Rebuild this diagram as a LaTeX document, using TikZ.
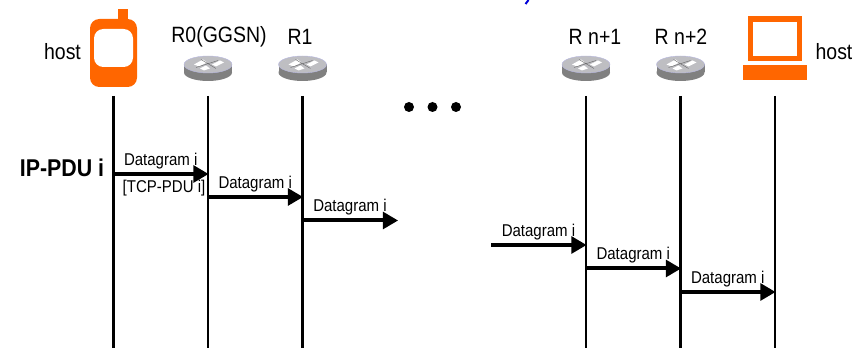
\documentclass[tikz,border=0pt]{standalone}
\usepackage{fontspec}
\setmainfont[FakeStretch=0.88]{Liberation Sans}
\usepackage{tikz}
\usetikzlibrary{arrows.meta}
\definecolor{hostorange}{HTML}{FF6600}
\definecolor{routerside}{HTML}{808080}
\definecolor{routertop}{HTML}{BEBEC2}
\tikzset{
    lifeline/.style={line width=1.6pt},
    msg/.style={line width=3pt, draw, -{Triangle[length=11.5pt,width=12.5pt]}, shorten >=-0.5pt},
    msglabel/.style={font=\fontsize{12.8}{12.8}\selectfont, inner sep=0pt, above=2.5pt},
    hostlabel/.style={font=\fontsize{16.6}{16.6}\selectfont, inner sep=0pt},
    router/.pic={
        \fill[routerside] (0,4) ellipse[x radius=24, y radius=8.5];
        \fill[routerside] (-24,-4) rectangle (24,4);
        \fill[routertop, draw=routerside!60!blue!40, line width=0.3pt] (0,-4) ellipse[x radius=24, y radius=8.5];
        \fill[white] (-14,-4) -- (-5,-9) -- (-1,-6) -- (-9,-2) -- cycle;
        \fill[white] (4,-4) -- (12,-8) -- (16,-6) -- (8,-2) -- cycle;
        \fill[white] (-8,0) -- (-2,-3) -- (2,0) -- (-4,2) -- cycle;
        \draw[black!60, line width=0.3pt] (-12,-1) -- (10,-8) (-7,-9) -- (8,0);
    }
}

\begin{document}
\begin{tikzpicture}[x=0.75pt, y=-0.75pt]
    \path[use as bounding box] (0, 0) rectangle (868, 348);

    % tops and feet of the lines
    \coordinate (H0top) at (113.5, 96);
    \coordinate (H0foot) at (113.5, 348);
    \coordinate (R0top) at (208, 96);
    \coordinate (R0foot) at (208, 348);
    \coordinate (R1top) at (302.5, 96);
    \coordinate (R1foot) at (302.5, 348);
    \coordinate (Rn1top) at (586, 96);
    \coordinate (Rn1foot) at (586, 348);
    \coordinate (Rn2top) at (680.5, 96);
    \coordinate (Rn2foot) at (680.5, 348);
    \coordinate (H1top) at (775, 96);
    \coordinate (H1foot) at (775, 348);

    % phone
    \fill[hostorange] (118, 9) rectangle (128, 22);
    \fill[hostorange, rounded corners=7] (90, 19) rectangle (137, 87);
    \fill[white, rounded corners=7] (94, 29) rectangle (133, 67);

    % laptop
    \draw[hostorange, line width=4.2pt] (750.5, 19) rectangle (799.5, 58.5);
    \fill[hostorange] (743, 65) rectangle (807, 80);

    \pic at (208, 68.5) {router};
    \pic at (302.5, 68.5) {router};
    \pic at (586, 68.5) {router};
    \pic at (680.5, 68.5) {router};

    \node[hostlabel] at (62.5, 52) (hostL) {host};
    \node[hostlabel] at (219, 36.5) (R0) {R0(GGSN)};
    \node[hostlabel] at (300, 36.5) (R1) {R1};
    \node[hostlabel] at (595, 36.5) (Rn1) {R n+1};
    \node[hostlabel] at (681, 36.5) (Rn2) {R n+2};
    \node[hostlabel] at (834, 52) (hostR) {host};
    \node[hostlabel, font=\fontsize{18.2}{18.2}\selectfont\bfseries] at (62, 168) (pdu) {IP-PDU i};

    \fill (409, 107) circle[radius=5];
    \fill (432.5, 107) circle[radius=5];
    \fill (456, 107) circle[radius=5];

    % bit of the cut off title
    \draw[blue!85!black, line width=1.5pt] (528.5, 0) -- (525.5, 4);

    \draw[lifeline] (H0top) -- (H0foot);
    \draw[lifeline] (R0top) -- (R0foot);
    \draw[lifeline] (R1top) -- (R1foot);
    \draw[lifeline] (Rn1top) -- (Rn1foot);
    \draw[lifeline] (Rn2top) -- (Rn2foot);
    \draw[lifeline] (H1top) -- (H1foot);

    \coordinate (a1) at (113.5, 174);
    \coordinate (b1) at (208, 174);
    \coordinate (a2) at (208, 197);
    \coordinate (b2) at (302.5, 197);
    \coordinate (a3) at (302.5, 220.5);
    \coordinate (b3) at (397.5, 220.5);
    \coordinate (a4) at (491, 245);
    \coordinate (b4) at (586, 245);
    \coordinate (a5) at (586, 268.5);
    \coordinate (b5) at (680.5, 268.5);
    \coordinate (a6) at (680.5, 292);
    \coordinate (b6) at (775, 292);

    \draw (a1) edge[msg] node[msglabel] (dg1) {Datagram i} (b1);
    \draw (a2) edge[msg] node[msglabel] (dg2) {Datagram i} (b2);
    \draw (a3) edge[msg] node[msglabel] (dg3) {Datagram i} (b3);
    \draw (a4) edge[msg] node[msglabel] (dg4) {Datagram i} (b4);
    \draw (a5) edge[msg] node[msglabel] (dg5) {Datagram i} (b5);
    \draw (a6) edge[msg] node[msglabel] (dg6) {Datagram i} (b6);

    \node[font=\fontsize{12.8}{12.8}\selectfont, inner sep=0pt] at (164, 188) (tcp) {[TCP-PDU i]};
\end{tikzpicture}
\end{document}
